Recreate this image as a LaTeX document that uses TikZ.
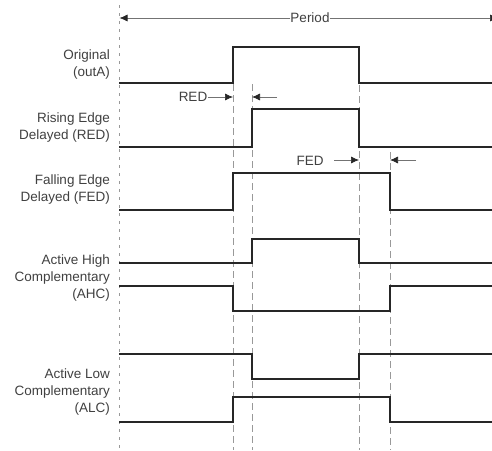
\documentclass[tikz,border=0pt]{standalone}
\usepackage{fontspec}
\setmainfont{Liberation Sans}
\usetikzlibrary{arrows.meta}
\begin{document}
\begin{tikzpicture}[x=1pt,y=-1pt,
  sig/.style={line width=2.4pt, draw=black!85, line join=miter},
  guide/.style={draw=black!40, line width=0.8pt, dash pattern=on 7pt off 4pt},
  axisline/.style={draw=black!40, line width=0.8pt, dash pattern=on 3pt off 5pt},
  lbl/.style={font=\fontsize{13.5}{17}\selectfont, text=black!75, align=right, anchor=east, inner sep=0pt},
  ann/.style={font=\fontsize{13.5}{17}\selectfont, text=black!75, inner sep=1pt},
  dim/.style={draw=black!55, line width=0.7pt, -{Latex[length=8pt,width=7pt,color=black!85]}},
]
\useasboundingbox (0,0) rectangle (492,450);

% vertical reference lines
\coordinate (axT) at (119,5);   \coordinate (axB) at (119,450);
\coordinate (g1T) at (233,84);  \coordinate (g1B) at (233,450);
\coordinate (g2T) at (252,84);  \coordinate (g2B) at (252,450);
\coordinate (g3T) at (359,85);  \coordinate (g3B) at (359,450);
\coordinate (g4T) at (390,152); \coordinate (g4B) at (390,450);
\draw[axisline] (axT) -- (axB);
\draw[guide] (g1T) -- (g1B);
\draw[guide] (g2T) -- (g2B);
\draw[guide] (g3T) -- (g3B);
\draw[guide] (g4T) -- (g4B);

% period
\node[ann, fill=white, inner sep=0pt] (period) at (310,18) {Period};
\coordinate (pL) at (119.5,18);
\coordinate (pR) at (498,18);
\draw[dim] (period.west) -- (pL);
\draw[dim] (period.east) -- (pR);

% labels
\node[lbl] (lOrig) at (110,64.5) {Original\\(outA)};
\node[lbl] (lRED) at (110,128) {Rising Edge\\Delayed (RED)};
\node[lbl] (lFED) at (110,190) {Falling Edge\\Delayed (FED)};
\node[lbl] (lAHC) at (110,278) {Active High\\Complementary\\(AHC)};
\node[lbl] (lALC) at (110,391.5) {Active Low\\Complementary\\(ALC)};

% signals
\draw[sig] (119,83)--(233,83)--(233,47)--(359,47)--(359,83)--(492,83);
\draw[sig] (119,147)--(252,147)--(252,109)--(359,109)--(359,147)--(492,147);
\draw[sig] (119,210)--(233,210)--(233,173)--(390,173)--(390,210)--(492,210);
\draw[sig] (119,263)--(252,263)--(252,239)--(359,239)--(359,263)--(492,263);
\draw[sig] (119,286)--(233,286)--(233,311)--(390,311)--(390,286)--(492,286);
\draw[sig] (119,354)--(252,354)--(252,379)--(359,379)--(359,354)--(492,354);
\draw[sig] (119,422)--(233,422)--(233,397)--(390,397)--(390,422)--(492,422);

% RED annotation
\node[ann] (redtxt) at (193,97) {RED};
\coordinate (redA) at (233,97);
\coordinate (redBt) at (277,97);
\coordinate (redB) at (252,97);
\draw[dim] (redtxt.east) -- (redA);
\draw[dim] (redBt) -- (redB);

% FED annotation
\node[ann] (fedtxt) at (310,161) {FED};
\coordinate (fedAt) at (334,160);
\coordinate (fedA) at (359,160);
\coordinate (fedBt) at (416,160);
\coordinate (fedB) at (390,160);
\draw[dim] (fedAt) -- (fedA);
\draw[dim] (fedBt) -- (fedB);
\end{tikzpicture}
\end{document}
